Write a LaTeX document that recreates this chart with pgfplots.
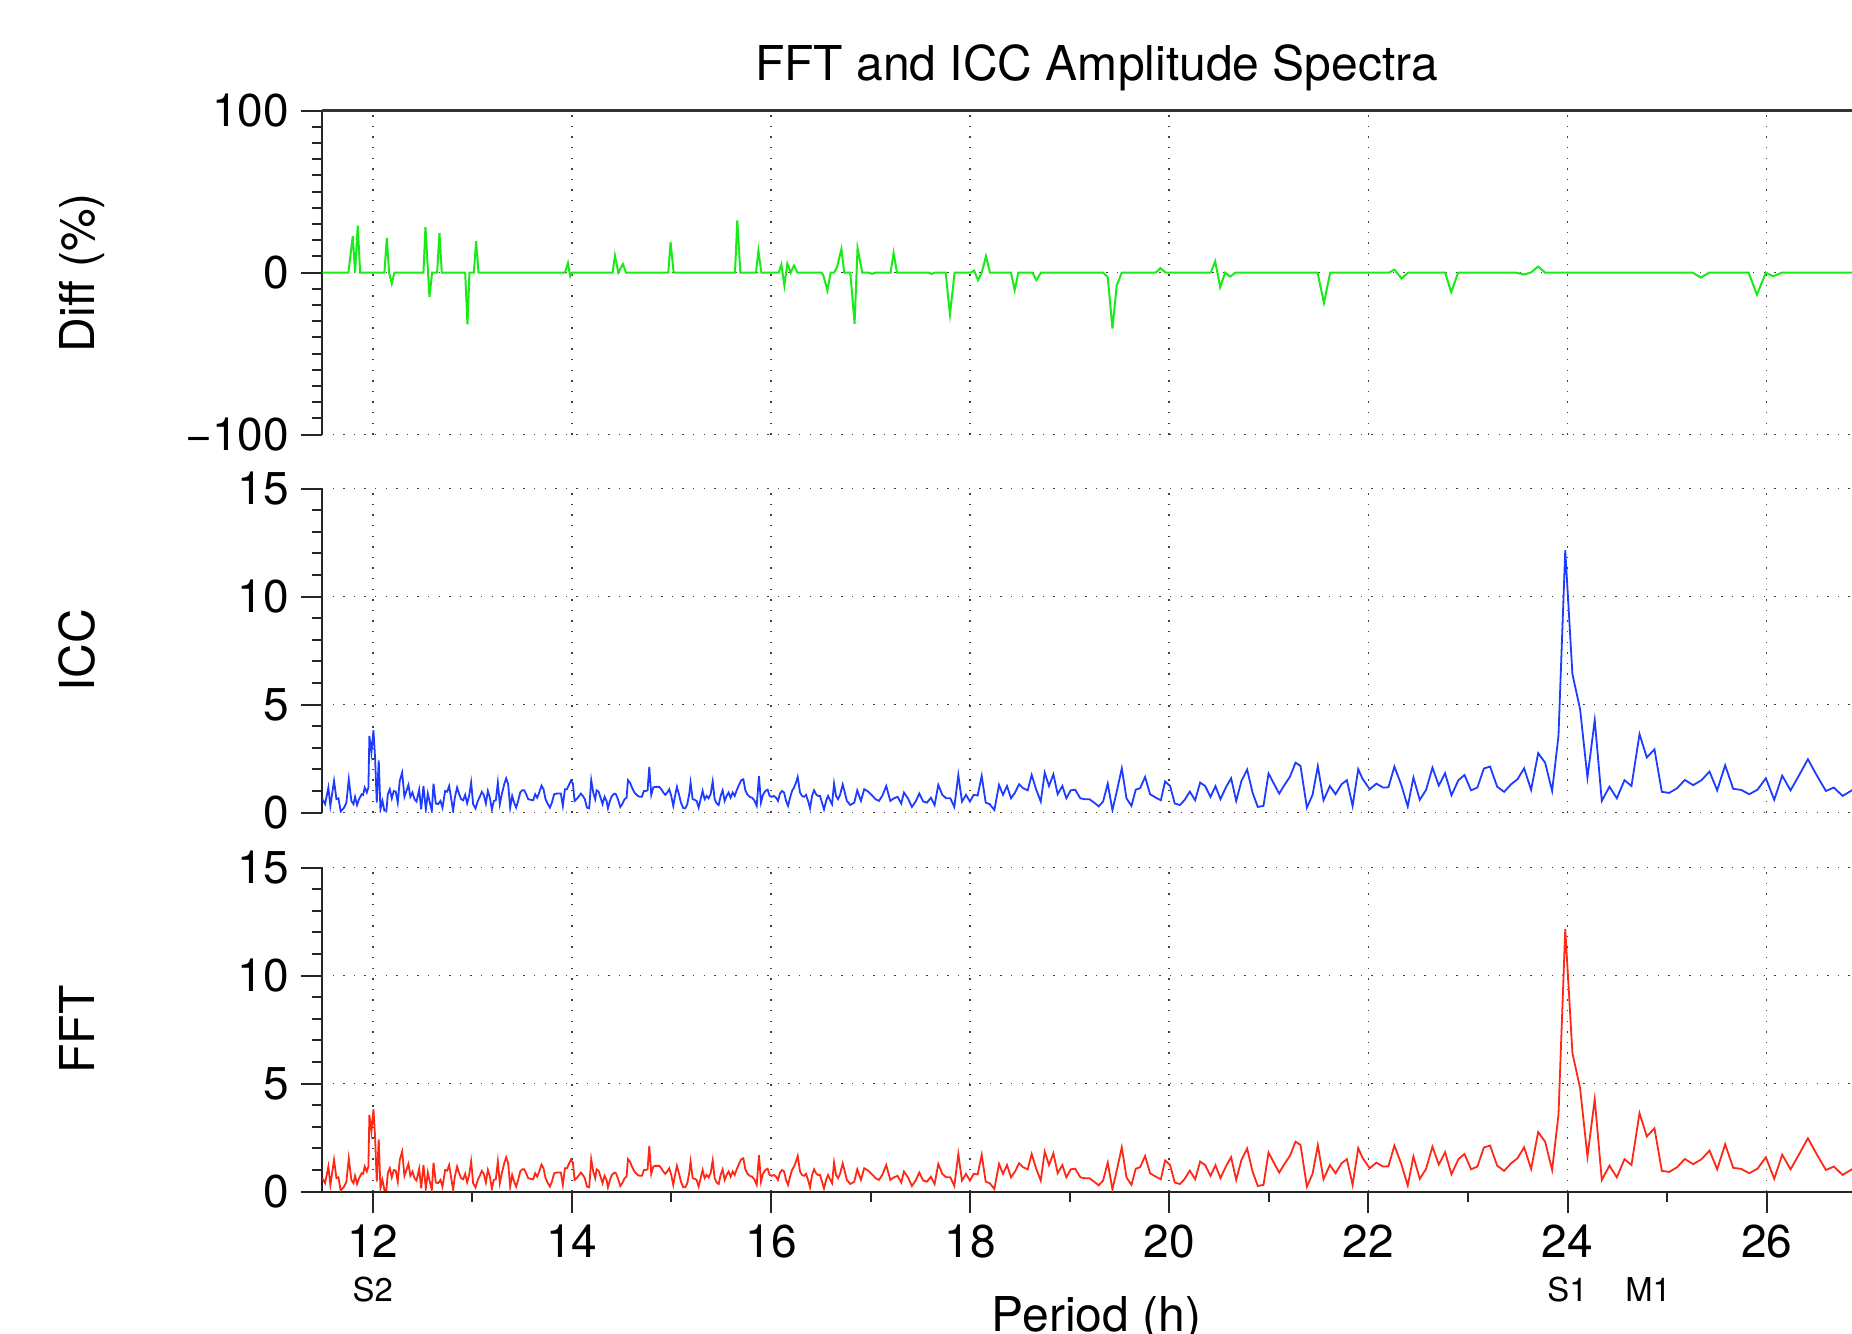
\documentclass[border=0pt]{standalone}
\usepackage{fontspec}
\setmainfont{TeX Gyre Heros}
\usepackage{pgfplots}
\usepackage{pgfplotstable}
\pgfplotsset{compat=1.18}

\definecolor{diffgreen}{RGB}{25,235,25}
\definecolor{iccblue}{RGB}{30,60,255}
\definecolor{fftred}{RGB}{255,40,20}

% amplitude spectrum (ICC and FFT coincide at this scale)
\pgfplotstableread{
P A
11.494 0.62
11.521 0.39
11.554 1.16
11.574 0.31
11.611 1.47
11.635 0.62
11.655 0.66
11.678 0.05
11.712 0.23
11.735 0.46
11.759 1.54
11.785 0.54
11.806 0.39
11.822 0.73
11.842 0.35
11.862 0.62
11.889 0.85
11.903 0.82
11.919 1.16
11.940 0.93
11.956 1.16
11.966 3.55
11.986 2.78
12.007 3.81
12.023 2.55
12.040 0.46
12.060 2.42
12.077 0.15
12.097 0.54
12.117 0.08
12.137 0.08
12.151 0.85
12.171 1.08
12.191 0.66
12.211 1.00
12.231 0.97
12.251 0.46
12.271 1.47
12.295 1.85
12.318 0.73
12.338 1.00
12.358 1.28
12.378 0.73
12.399 0.93
12.419 0.62
12.439 0.51
12.466 1.06
12.486 0.15
12.509 1.23
12.533 0.15
12.553 0.88
12.573 0.46
12.593 0.08
12.610 1.34
12.633 0.42
12.657 0.39
12.680 0.54
12.700 0.23
12.727 1.00
12.747 0.97
12.767 1.23
12.787 0.66
12.807 0.08
12.824 0.69
12.847 1.16
12.868 0.85
12.888 0.62
12.908 0.57
12.928 0.82
12.948 0.43
12.968 0.77
12.988 1.39
13.008 0.39
13.032 0.19
13.055 0.54
13.075 0.73
13.095 0.96
13.115 0.82
13.136 0.42
13.156 1.00
13.176 0.69
13.196 0.14
13.216 0.54
13.236 0.57
13.256 1.39
13.276 0.39
13.296 0.85
13.320 1.31
13.340 1.59
13.360 1.31
13.380 0.23
13.400 0.77
13.420 0.46
13.440 0.23
13.460 0.54
13.481 0.93
13.501 1.03
13.521 1.03
13.541 0.85
13.561 0.62
13.588 0.59
13.611 0.57
13.631 0.85
13.651 0.69
13.672 0.93
13.695 1.25
13.715 1.08
13.735 0.62
13.759 0.39
13.779 0.23
13.799 0.46
13.822 0.85
13.846 0.88
13.869 0.88
13.889 0.88
13.909 0.31
13.930 1.08
13.950 1.08
13.973 1.31
13.990 1.47
14.010 1.34
14.027 0.54
14.047 0.62
14.067 0.73
14.090 0.88
14.110 0.77
14.130 0.62
14.151 0.23
14.174 0.20
14.194 1.50
14.214 0.93
14.234 0.62
14.248 1.03
14.268 0.97
14.288 0.69
14.308 0.39
14.328 0.73
14.348 0.54
14.362 0.20
14.382 0.54
14.402 0.77
14.425 0.88
14.442 0.85
14.462 0.62
14.486 0.26
14.509 0.42
14.529 0.62
14.549 0.69
14.563 1.50
14.583 1.39
14.603 1.16
14.623 0.97
14.643 0.85
14.663 0.77
14.683 0.73
14.703 0.73
14.723 1.00
14.744 1.00
14.760 1.03
14.777 2.11
14.797 0.82
14.817 1.16
14.837 1.19
14.857 1.19
14.878 1.19
14.898 1.08
14.918 0.93
14.938 0.82
14.958 0.93
14.978 1.08
14.998 0.77
15.018 0.31
15.038 0.82
15.055 1.19
15.075 0.85
15.095 0.46
15.119 0.20
15.139 0.20
15.159 0.39
15.179 0.88
15.192 1.39
15.213 0.62
15.233 0.59
15.253 0.54
15.273 0.23
15.293 0.62
15.313 1.00
15.333 0.62
15.353 0.77
15.373 0.66
15.393 0.85
15.414 1.44
15.434 0.62
15.454 0.42
15.474 0.35
15.494 0.77
15.514 1.03
15.534 0.54
15.554 0.77
15.574 0.93
15.594 0.69
15.615 0.93
15.635 0.77
15.655 1.03
15.678 1.28
15.702 1.50
15.722 1.54
15.742 1.03
15.765 0.82
15.785 0.73
15.809 0.69
15.832 0.57
15.856 0.31
15.879 1.68
15.899 0.46
15.919 0.82
15.943 1.00
15.966 1.06
15.986 0.77
16.007 0.73
16.027 0.77
16.050 0.69
16.070 0.54
16.090 0.88
16.110 1.00
16.131 0.93
16.151 0.54
16.171 0.31
16.191 0.69
16.211 1.00
16.231 1.16
16.251 1.39
16.268 1.65
16.291 0.93
16.311 0.77
16.332 0.73
16.352 0.82
16.372 0.54
16.392 0.20
16.412 0.77
16.432 1.03
16.452 0.85
16.472 0.77
16.492 0.77
16.512 0.46
16.532 0.15
16.553 0.54
16.573 0.77
16.593 0.57
16.613 0.39
16.633 1.34
16.653 0.77
16.673 0.62
16.693 0.82
16.720 1.30
16.762 0.54
16.796 0.35
16.836 0.46
16.866 1.03
16.903 0.54
16.936 1.08
16.977 0.97
17.010 0.82
17.050 0.62
17.084 0.54
17.117 0.77
17.157 1.23
17.198 0.54
17.235 0.66
17.271 0.73
17.308 0.42
17.335 0.93
17.375 0.66
17.415 0.26
17.452 0.51
17.489 0.88
17.529 0.51
17.566 0.46
17.606 0.69
17.643 0.35
17.680 1.28
17.720 0.82
17.760 0.66
17.801 0.66
17.841 0.26
17.881 1.74
17.918 0.51
17.958 0.82
17.998 0.51
18.035 0.82
18.075 0.79
18.116 1.70
18.156 0.46
18.196 0.39
18.243 0.12
18.290 1.28
18.330 0.82
18.370 1.23
18.410 0.66
18.451 0.93
18.491 1.31
18.531 1.13
18.578 1.03
18.618 1.74
18.662 1.08
18.709 0.51
18.749 1.85
18.792 1.23
18.836 1.77
18.879 0.85
18.926 1.23
18.966 0.66
19.010 1.03
19.054 1.06
19.107 0.66
19.151 0.62
19.198 0.62
19.245 0.46
19.291 0.29
19.335 0.51
19.382 1.34
19.429 0.11
19.476 1.05
19.523 2.05
19.570 0.66
19.620 0.31
19.663 1.06
19.707 1.13
19.757 1.65
19.807 0.85
19.864 0.69
19.915 0.57
19.958 1.44
20.008 1.23
20.055 0.42
20.106 0.35
20.152 0.57
20.206 0.97
20.260 0.57
20.310 1.39
20.360 1.23
20.414 0.73
20.464 1.22
20.514 0.62
20.568 1.16
20.621 1.59
20.672 0.54
20.725 1.47
20.782 1.99
20.836 0.93
20.889 0.26
20.946 0.31
20.997 1.81
21.050 1.34
21.104 0.88
21.157 1.28
21.211 1.65
21.268 2.31
21.318 2.16
21.382 0.23
21.439 0.82
21.492 2.15
21.549 0.57
21.613 1.23
21.670 0.85
21.730 1.31
21.784 1.50
21.841 0.31
21.898 2.01
21.940 1.57
22.013 1.08
22.080 1.34
22.147 1.16
22.201 1.17
22.261 2.13
22.328 1.31
22.395 0.28
22.452 1.62
22.516 0.59
22.579 1.05
22.643 2.08
22.707 1.25
22.770 1.82
22.834 0.80
22.904 1.50
22.965 1.74
23.031 1.03
23.095 1.16
23.159 2.04
23.222 2.13
23.293 1.20
23.363 0.96
23.433 1.31
23.497 1.54
23.564 2.05
23.634 1.05
23.705 2.75
23.775 2.31
23.845 1.00
23.909 3.55
23.977 12.15
24.049 6.41
24.126 4.79
24.200 1.62
24.273 4.28
24.344 0.54
24.421 1.20
24.495 0.66
24.572 1.50
24.642 1.23
24.723 3.63
24.796 2.55
24.873 2.93
24.947 0.96
25.021 0.91
25.101 1.13
25.178 1.51
25.262 1.27
25.346 1.50
25.426 1.90
25.503 1.03
25.583 2.19
25.664 1.10
25.744 1.05
25.825 0.85
25.908 1.06
25.992 1.59
26.076 0.59
26.156 1.71
26.240 1.03
26.327 1.74
26.414 2.47
26.501 1.74
26.595 1.00
26.675 1.16
26.762 0.77
26.863 1.05
26.960 1.20
27.060 1.35
}\amptab

% relative difference ICC vs FFT in percent
\pgfplotstableread{
P D
11.494 0
11.755 0
11.799 22.4
11.822 0
11.849 28.9
11.873 0
12.117 0
12.141 21.3
12.164 0
12.191 -6.8
12.218 0
12.509 0
12.529 28.1
12.569 -15.0
12.596 0
12.646 0
12.670 24.4
12.693 0
12.928 0
12.951 -32.0
12.971 0
13.015 0
13.038 19.3
13.062 0
13.930 0
13.960 5.9
13.983 -2.3
14.003 0
14.409 0
14.432 10.5
14.466 0
14.512 5.3
14.543 0
14.968 0
14.991 18.7
15.022 0
15.638 0
15.661 32.2
15.692 0
15.849 0
15.873 13.5
15.903 0
16.077 0
16.104 4.9
16.134 -8.0
16.164 5.5
16.197 0
16.231 4.3
16.265 0
16.506 0
16.526 -1.8
16.566 -11.1
16.599 0
16.633 0
16.663 3.3
16.707 14.6
16.735 0
16.796 0
16.839 -31.6
16.869 15.2
16.916 0
16.977 0
17.017 -0.8
17.050 0
17.201 0
17.231 12.1
17.265 0
17.580 0
17.613 -0.8
17.647 0
17.754 0
17.797 -25.8
17.844 0
18.005 0
18.039 1.2
18.079 -4.7
18.116 0
18.159 10.1
18.199 0
18.410 0
18.447 -10.9
18.484 0
18.625 0
18.665 -4.7
18.712 0
19.335 0
19.382 -2.9
19.429 -34.5
19.472 -8.0
19.523 0
19.864 0
19.911 2.7
19.965 0
20.417 0
20.461 7.0
20.511 -9.0
20.561 0
20.611 -2.5
20.668 0
21.489 0
21.553 -18.7
21.616 0
22.208 0
22.261 1.8
22.332 -3.7
22.399 0
22.770 0
22.831 -12.1
22.901 0
23.480 0
23.564 -1.2
23.631 0
23.705 3.7
23.775 0
25.255 0
25.339 -3.1
25.423 0
25.818 0
25.902 -13.7
25.992 0
26.066 -2.3
26.153 0
27.060 0
}\difftab

\pgfplotsset{
  panel/.style={
    scale only axis, width=387.3pt, height=81pt,
    xmin=11.49, xmax=27.05,
    xtick={12,14,...,26},
    axis y line*=left, axis x line*=bottom,
    axis line style={-, line width=0.5pt, black!85},
    tick align=outside, major tick length=5.3pt, minor tick length=2.6pt,
    tick style={line width=0.5pt, black!85},
    grid=major,
    major grid style={line width=0.4pt, black!75, dash pattern=on 0.35pt off 2.3pt},
    /pgf/number format/assume math mode=true,
    tick label style={font=\fontsize{11.5}{13}\selectfont, inner sep=2.8pt},
    ylabel style={font=\fontsize{12}{14}\selectfont,
      at={(axis description cs:-0.1468,0.5)}, anchor=base},
  },
  upper/.style={
    minor x tick num=0, xtick style={draw=none}, xticklabels={},
  },
}

\begin{document}
\begin{tikzpicture}
\useasboundingbox (0,0) rectangle (463pt,333.5pt);

% top: difference
\begin{axis}[panel, upper, at={(80.5pt,224.85pt)}, anchor=south west,
  axis x line*=top, x axis line style={line width=0.7pt, black!80},
  ymin=-100, ymax=100, ytick={-100,0,100}, yticklabels={−100,0,100},
  minor y tick num=9,
  ylabel={Diff (\%)},
  title={FFT and ICC Amplitude Spectra},
  title style={font=\fontsize{12}{14}\selectfont,
    at={(axis description cs:0.5,1)}, anchor=base, yshift=1.6pt}]
\addplot[diffgreen, line width=0.5pt] table[x=P, y=D] {\difftab};
\end{axis}

% middle: ICC
\begin{axis}[panel, upper, at={(80.5pt,130.35pt)}, anchor=south west,
  x axis line style={draw=none},
  ymin=0, ymax=15, ytick={0,5,10,15}, minor y tick num=4,
  ylabel={ICC}]
\addplot[iccblue, line width=0.45pt] table[x=P, y=A] {\amptab};
\end{axis}

% bottom: FFT
\begin{axis}[panel, at={(80.5pt,35.6pt)}, anchor=south west,
  minor x tick num=1,
  ymin=0, ymax=15, ytick={0,5,10,15}, minor y tick num=4,
  ylabel={FFT},
  xlabel={Period (h)},
  xlabel style={font=\fontsize{12}{14}\selectfont,
    at={(axis description cs:0.5,0)}, anchor=base, yshift=-35pt},
  after end axis/.code={
    \node[anchor=base, font=\fontsize{8.2}{10}\selectfont] at ([yshift=-27.4pt]axis cs:12,0) {S2};
    \node[anchor=base, font=\fontsize{8.2}{10}\selectfont] at ([yshift=-27.4pt]axis cs:24,0) {S1};
    \node[anchor=base, font=\fontsize{8.2}{10}\selectfont] at ([yshift=-27.4pt]axis cs:24.81,0) {M1};
  }]
\addplot[fftred, line width=0.45pt] table[x=P, y=A] {\amptab};
\end{axis}
\end{tikzpicture}
\end{document}
